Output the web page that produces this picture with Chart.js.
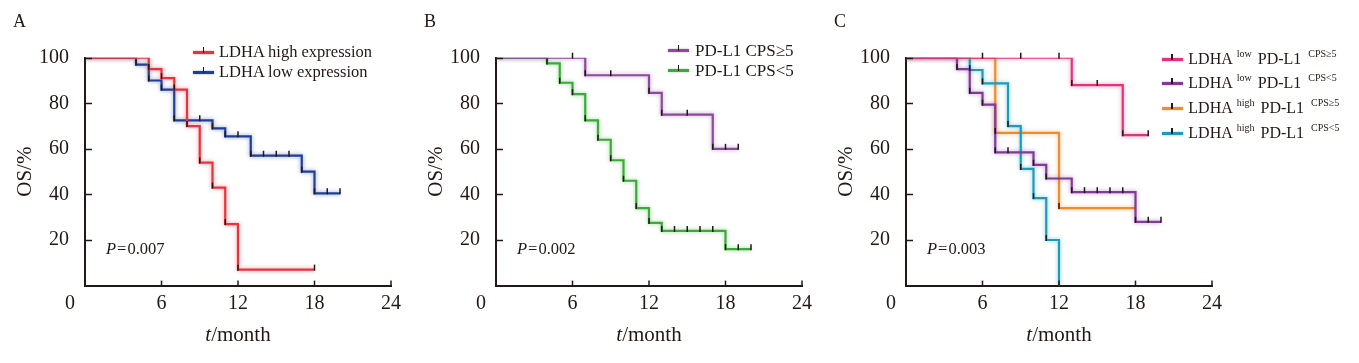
<!DOCTYPE html>
<html><head><meta charset="utf-8">
<script src="https://cdn.jsdelivr.net/npm/chart.js@4.4.0/dist/chart.umd.min.js"></script>
<style>
html,body{margin:0;padding:0;background:#fff;}
body{width:1359px;height:363px;position:relative;overflow:hidden;font-family:"Liberation Serif","Times New Roman",serif;color:#231815;}
.panel{position:absolute;top:0;width:411px;height:363px;}
.panel canvas{position:absolute;left:0;top:0;}
.t{position:absolute;white-space:nowrap;line-height:1;}
.samp{position:absolute;width:21px;height:3px;}
.samp::after{content:"";position:absolute;left:9.5px;top:-4px;width:1.6px;height:6px;background:#231815;}
sup.s{font-size:10px;vertical-align:0;position:relative;top:-7px;}
</style>
</head><body>
<div class="panel" id="pA" style="left:0px"><canvas id="cA" width="411" height="363"></canvas></div>
<div class="panel" id="pB" style="left:411px"><canvas id="cB" width="411" height="363"></canvas></div>
<div class="panel" id="pC" style="left:821px"><canvas id="cC" width="411" height="363"></canvas></div>
<script>
// ---------- data ----------
const xTicks = [0, 6, 12, 18, 24];
const yTicks = [20, 40, 60, 80, 100];
const panelLetters = ['A', 'B', 'C'];
const pValues = ['0.007', '0.002', '0.003'];

// Panel A
const aHighLabel = 'LDHA high expression';
const aHighT = [0, 5, 6, 7, 8, 9, 10, 11, 12, 18];
const aHighS = [100, 95, 91, 86, 70, 54, 43, 27, 7, 7];
const aHighCens = [18];
const aLowLabel = 'LDHA low expression';
const aLowT = [0, 4, 5, 6, 7, 10, 11, 13, 17, 18, 20];
const aLowS = [100, 97, 90, 86, 72.5, 69, 65.5, 57, 50, 40.5, 40.5];
const aLowCens = [9, 12, 14, 15, 16, 19, 20];

// Panel B
const bHighLabel = 'PD-L1 CPS≥5';
const bHighT = [0, 7, 12, 13, 17, 19];
const bHighS = [100, 92.3, 84.6, 75, 60, 60];
const bHighCens = [6, 9, 15, 18, 19];
const bLowLabel = 'PD-L1 CPS<5';
const bLowT = [0, 4, 5, 6, 7, 8, 9, 10, 11, 12, 13, 18, 20];
const bLowS = [100, 97.5, 89, 84, 72.5, 64, 55, 46, 34, 27.5, 24, 16, 16];
const bLowCens = [14, 15, 16, 17, 19, 20];

// Panel C
const cLabels = [['low', 'CPS≥5'], ['low', 'CPS<5'], ['high', 'CPS≥5'], ['high', 'CPS<5']];
const cLowHiT = [0, 13, 17, 19];
const cLowHiS = [100, 88, 66, 66];
const cLowHiCens = [6, 9, 12, 15, 19];
const cLowLoT = [0, 4, 5, 6, 7, 10, 11, 13, 18, 20];
const cLowLoS = [100, 95, 84.6, 79.4, 58.5, 53, 47, 41, 28, 28];
const cLowLoCens = [8, 14, 15, 16, 17, 19, 20];
const cHiHiT = [0, 7, 12, 18];
const cHiHiS = [100, 67, 34, 34];
const cHiHiCens = [];
const cHiLoT = [0, 5, 6, 8, 9, 10, 11, 12];
const cHiLoS = [100, 94.6, 88.7, 70, 51.2, 38.4, 20, 0];
const cHiLoCens = [];

// ---------- style ----------
const INK = '#231815';
const FAM = '"Liberation Serif","Times New Roman",serif';
const COL = {
  red: '#e8333c', blue: '#1f3f97',
  purpleB: '#8c4a9d', green: '#3aab38',
  pink: '#e5327a', purpleC: '#7d3c96', orange: '#f08c2c', cyan: '#1b9cbf'
};

function rgba(hex, a) {
  const n = parseInt(hex.slice(1), 16);
  return `rgba(${n >> 16},${(n >> 8) & 255},${n & 255},${a})`;
}
function series(T, S, cens, color) {
  return {
    data: T.map((t, i) => ({x: t, y: S[i]})),
    censor: cens,
    borderColor: color,
    halo: rgba(color, 0.55),
    borderWidth: 2.2,
    pointRadius: 0,
    fill: false,
    stepped: 'before',
    tension: 0
  };
}

const haloPlugin = {
  id: 'halo',
  beforeDatasetDraw(chart, args) {
    const ds = chart.data.datasets[args.index];
    chart.ctx.save();
    chart.ctx.shadowColor = ds.halo;
    chart.ctx.shadowBlur = 4;
  },
  afterDatasetDraw(chart) { chart.ctx.restore(); }
};

const marksPlugin = {
  id: 'kmMarks',
  afterDraw(chart) {
    const {ctx, scales: {x, y}, chartArea} = chart;
    ctx.save();
    ctx.strokeStyle = INK;
    ctx.lineWidth = 1.5;
    chart.data.datasets.forEach(ds => {
      const pts = [];
      ds.data.forEach((p, i) => { if (i > 0 && p.y !== ds.data[i - 1].y && p.y > 0) pts.push(p); });
      (ds.censor || []).forEach(c => {
        let v = ds.data[0].y;
        ds.data.forEach(p => { if (p.x <= c) v = p.y; });
        pts.push({x: c, y: v});
      });
      pts.forEach(p => {
        const px = x.getPixelForValue(p.x), py = y.getPixelForValue(p.y);
        ctx.beginPath(); ctx.moveTo(px, py + 1); ctx.lineTo(px, py - 5); ctx.stroke();
      });
    });
    // inward axis ticks
    yTicks.forEach(v => {
      const py = Math.round(y.getPixelForValue(v)) + 0.5;
      ctx.beginPath(); ctx.moveTo(chartArea.left, py); ctx.lineTo(chartArea.left + 7, py); ctx.stroke();
    });
    xTicks.forEach(v => {
      if (v === 0) return;
      const px = x.getPixelForValue(v);
      ctx.beginPath(); ctx.moveTo(px, chartArea.bottom); ctx.lineTo(px, chartArea.bottom - 5); ctx.stroke();
    });
    ctx.restore();
  }
};

function makeChart(id, datasets) {
  return new Chart(document.getElementById(id), {
    type: 'line',
    data: {datasets},
    plugins: [haloPlugin, marksPlugin],
    options: {
      responsive: false, animation: false, events: [],
      layout: {padding: {top: 57.7, right: 20, left: 0, bottom: 0}},
      plugins: {legend: {display: false}, tooltip: {enabled: false}},
      scales: {
        x: {
          type: 'linear', min: 0, max: 24,
          afterBuildTicks: s => { s.ticks = xTicks.map(v => ({value: v})); },
          ticks: {callback: v => (v === 0 ? '' : String(v)), font: {family: FAM, size: 20}, color: INK, padding: -2, maxRotation: 0, autoSkip: false},
          grid: {display: false},
          border: {display: true, color: INK, width: 2},
          afterFit: s => { s.height = 77.4; }
        },
        y: {
          type: 'linear', min: 0, max: 100,
          afterBuildTicks: s => { s.ticks = yTicks.map(v => ({value: v})); },
          ticks: {font: {family: FAM, size: 20}, color: INK, padding: 8},
          grid: {display: false},
          border: {display: true, color: INK, width: 2},
          title: {display: true, text: 'OS/%', font: {family: FAM, size: 21}, color: INK, padding: {top: 13, bottom: 0}},
          afterFit: s => { s.width = 85; }
        }
      }
    }
  });
}

makeChart('cA', [
  series(aHighT, aHighS, aHighCens, COL.red),
  series(aLowT, aLowS, aLowCens, COL.blue)
]);
makeChart('cB', [
  series(bHighT, bHighS, bHighCens, COL.purpleB),
  series(bLowT, bLowS, bLowCens, COL.green)
]);
makeChart('cC', [
  series(cLowHiT, cLowHiS, cLowHiCens, COL.pink),
  series(cLowLoT, cLowLoS, cLowLoCens, COL.purpleC),
  series(cHiLoT, cHiLoS, cHiLoCens, COL.cyan),
  series(cHiHiT, cHiHiS, cHiHiCens, COL.orange)
]);

// ---------- HTML text overlays ----------
function addText(parent, html, left, top, size, extra) {
  const d = document.createElement('div');
  d.className = 't';
  d.style.left = left + 'px';
  d.style.top = top + 'px';
  d.style.fontSize = size + 'px';
  if (extra) Object.assign(d.style, extra);
  d.innerHTML = html;
  parent.appendChild(d);
  return d;
}
function addSample(parent, left, cy, color) {
  const d = document.createElement('div');
  d.className = 'samp';
  d.style.left = left + 'px';
  d.style.top = (cy - 1.5) + 'px';
  d.style.background = color;
  d.style.boxShadow = '0 0 2px ' + rgba(color, 0.6);
  parent.appendChild(d);
}
const panels = ['pA', 'pB', 'pC'].map(id => document.getElementById(id));
panels.forEach((p, i) => {
  addText(p, panelLetters[i], 13, 11.7, 18);
  addText(p, '0', 65, 292.1, 20);
  addText(p, '<i>t</i>/month', 238, 324.1, 21, {transform: 'translateX(-50%)'});
  addText(p, '<i>P</i><span style="margin:0 1px">=</span>' + pValues[i], 106, 240.9, 16.5);
});
// legend A
addSample(panels[0], 193, 52.3, COL.red);
addText(panels[0], aHighLabel, 219, 44, 16.5);
addSample(panels[0], 193, 72.3, COL.blue);
addText(panels[0], aLowLabel, 219, 64, 16.5);
// legend B
addSample(panels[1], 257.3, 50, COL.purpleB);
addText(panels[1], bHighLabel, 284, 41.5, 17);
addSample(panels[1], 257.3, 70, COL.green);
addText(panels[1], bLowLabel, 284, 61.5, 17);
// legend C
const cCols = [COL.pink, COL.purpleC, COL.orange, COL.cyan];
const cRows = [59.3, 83.5, 108, 133];
cLabels.forEach((lab, i) => {
  addSample(panels[2], 340.7, cRows[i], cCols[i]);
  addText(panels[2], 'LDHA<sup class="s" style="margin:0 6px 0 4px">' + lab[0] + '</sup>PD-L1<sup class="s" style="margin-left:7px">' + lab[1] + '</sup>', 367.3, cRows[i] - 8.1, 16);
});
</script>
</body></html>
